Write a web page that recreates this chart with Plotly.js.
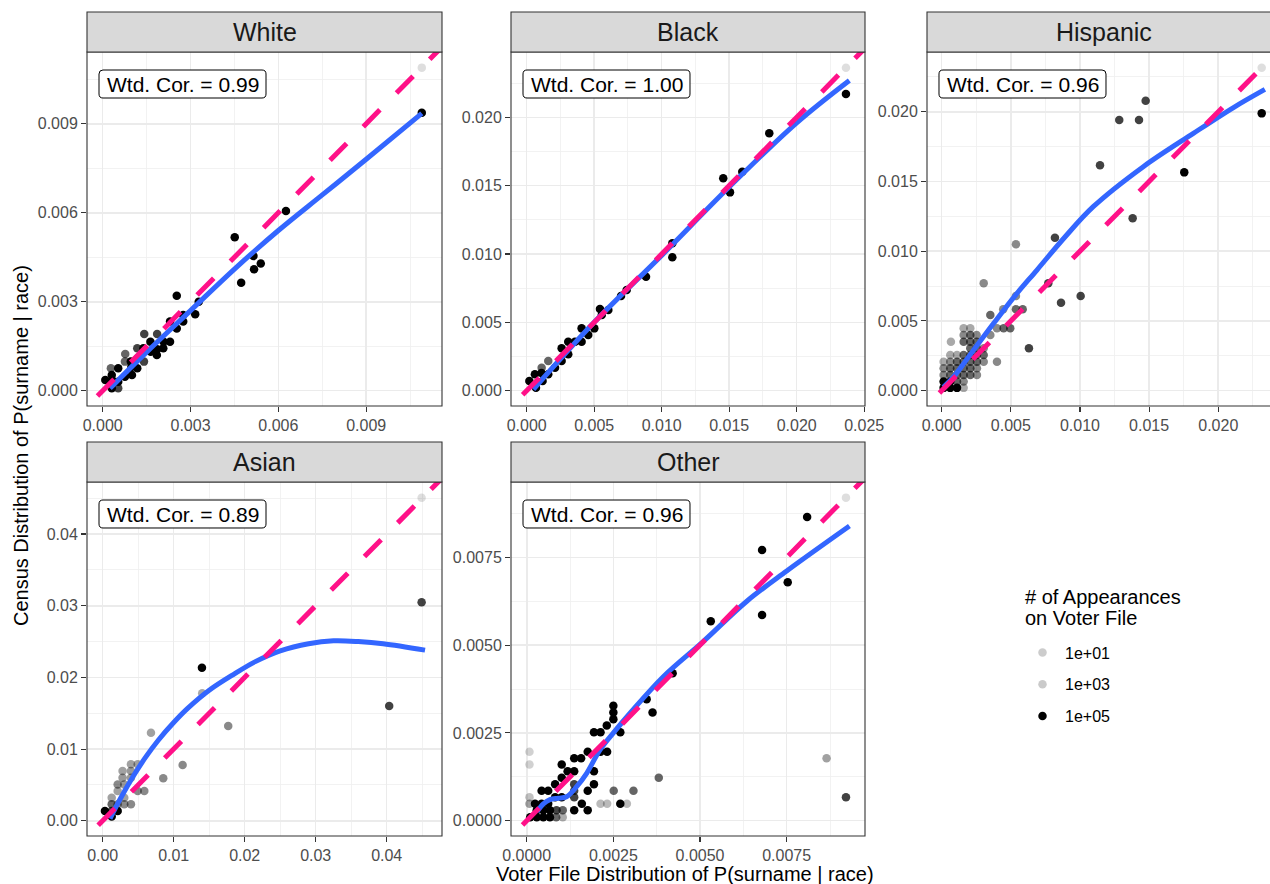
<!DOCTYPE html>
<html>
<head>
<meta charset="utf-8">
<script src="https://cdn.plot.ly/plotly-3.0.1.min.js"></script>
<style>html,body{margin:0;padding:0;background:#fff;}#chart{width:1270px;height:884px;}</style>
</head>
<body>
<div id="chart"></div>
<script>
// ---------------- DATA ----------------
const panelNames = ['White', 'Black', 'Hispanic', 'Asian', 'Other'];
const corValues = ['0.99', '1.00', '0.96', '0.89', '0.96'];
const legendTitleLines = ['# of Appearances', 'on Voter File'];
const legendCounts = [10, 1000, 100000];
const legendLabels = ['1e+01', '1e+03', '1e+05'];

const whiteTicks = [0, 0.003, 0.006, 0.009];
const blackTicksX = [0, 0.005, 0.010, 0.015, 0.020, 0.025];
const blackTicksY = [0, 0.005, 0.010, 0.015, 0.020];
const hispTicks = [0, 0.005, 0.010, 0.015, 0.020];
const asianTicks = [0, 0.01, 0.02, 0.03, 0.04];
const otherTicks = [0, 0.0025, 0.0050, 0.0075];

// White: voter-file share, census share, # appearances
const whiteX = [0.0109,0.0109,0.00626,0.00451,0.00515,0.0054,0.00517,0.00473,0.00253,0.00328,0.00316,0.00275,0.00275,0.0023,0.00253,0.0023,0.00207,0.00186,0.00185,0.00163,0.00142,0.00164,0.00139,0.00118,0.00141,0.00118,0.00096,0.00077,0.00076,0.0010,0.00053,0.00028,0.00031,0.00053,0.00009,0.00032,0.00053,0.00031,0.00076,0.00186,0.00208,0.00098,0.0012];
const whiteY = [0.01089,0.00937,0.00606,0.00517,0.00454,0.00429,0.00409,0.00364,0.0032,0.0030,0.00258,0.00255,0.00233,0.00233,0.0021,0.00165,0.00143,0.00191,0.0012,0.00165,0.00191,0.00131,0.00143,0.00143,0.00098,0.00076,0.00098,0.00124,0.00098,0.00053,0.00076,0.00076,0.00053,0.0003,0.00036,0.00036,0.00008,0.00008,0.00047,0.0014,0.00165,0.0008,0.0011];
const whiteN = [10,100000,100000,100000,100000,100000,100000,100000,100000,100000,100000,100000,100000,100000,100000,100000,100000,50000,100000,100000,50000,100000,100000,50000,50000,100000,100000,30000,30000,100000,100000,30000,100000,100000,100000,100000,50000,100000,100000,100000,100000,100000,100000];

const blackX = [0.02365,0.02365,0.01797,0.01456,0.01597,0.01506,0.01079,0.01079,0.00884,0.00741,0.00699,0.00543,0.00605,0.00556,0.00501,0.00407,0.00456,0.00407,0.00358,0.00308,0.00259,0.00308,0.00259,0.0021,0.0016,0.00111,0.0016,0.00061,0.00118,0.0002,0.00069,0.0011];
const blackY = [0.02363,0.0217,0.01883,0.01554,0.01602,0.01451,0.01078,0.00976,0.00834,0.00737,0.00693,0.00598,0.0059,0.00554,0.00456,0.00456,0.00407,0.00358,0.00358,0.00358,0.0031,0.00266,0.00217,0.00168,0.00217,0.00168,0.0012,0.0012,0.00071,0.00071,0.00022,0.0013];
const blackN = [10,100000,100000,100000,100000,100000,100000,100000,100000,100000,100000,100000,100000,100000,100000,100000,100000,100000,100000,100000,100000,100000,100000,100000,30000,30000,100000,100000,100000,100000,100000,100000];

const hispX = [0.02314,0.02314,0.01475,0.01284,0.01427,0.01145,0.01754,0.01381,0.00819,0.00537,0.00304,0.00771,0.01005,0.00863,0.00537,0.00586,0.00537,0.00445,0.00352,0.0040,0.00448,0.00496,0.00352,0.00631,0.0040,0.00067,
  0.00159,0.00207,
  0.00159,0.00207,0.00253,
  0.00159,0.00207,0.00253,
  0.00207,0.00253,0.00304,
  0.00062,0.00111,0.00159,0.00207,0.00255,0.00304,
  0.00014,0.00062,0.00111,0.00159,0.00207,0.00255,0.00304,
  0.00014,0.00062,0.00111,0.00159,0.00207,0.00255,
  0.00014,0.00062,0.00111,0.00159,0.00207,0.00255,
  0.00014,0.00062,0.00111,0.00159,
  0.00014,0.00062,0.00111,0.00159];
const hispY = [0.02315,0.01988,0.02079,0.0194,0.0194,0.01616,0.01565,0.01236,0.01097,0.01049,0.0077,0.0077,0.00679,0.00631,0.00679,0.00583,0.00583,0.00583,0.00543,0.00447,0.00447,0.00447,0.00399,0.00304,0.00208,0.00351,
  0.00447,0.00447,
  0.00399,0.00399,0.00399,
  0.00351,0.00351,0.00351,
  0.00304,0.00304,0.00304,
  0.00256,0.00256,0.00256,0.00256,0.00256,0.00256,
  0.00208,0.00208,0.00208,0.00208,0.00208,0.00208,0.00208,
  0.00161,0.00161,0.00161,0.00161,0.00161,0.00161,
  0.00113,0.00113,0.00113,0.00113,0.00113,0.00113,
  0.00065,0.00065,0.00065,0.00065,
  0.00020,0.00020,0.00020,0.00020];
const hispN = [10,100000,50000,50000,50000,50000,100000,50000,50000,15000,15000,50000,50000,50000,15000,30000,30000,15000,30000,15000,30000,30000,15000,50000,15000,6000,
  6000,6000,
  15000,30000,15000,
  30000,30000,30000,
  30000,30000,15000,
  6000,6000,30000,30000,30000,30000,
  6000,15000,30000,30000,30000,30000,15000,
  15000,30000,30000,30000,30000,15000,
  15000,30000,30000,30000,30000,15000,
  100000,100000,30000,15000,
  100000,100000,100000,6000];

const asianX = [0.04492,0.04492,0.01398,0.01402,0.04035,0.01768,0.0068,0.01126,0.00853,0.00586,0.00493,0.00398,0.00493,0.0028,0.00398,0.0028,0.00398,0.00211,0.00304,0.00211,0.00127,0.00304,0.00127,0.00211,0.00304,0.00398,0.00032,0.00211,0.00127,0.00127];
const asianY = [0.04507,0.03047,0.02135,0.01778,0.016,0.01321,0.01228,0.00777,0.00592,0.00414,0.00414,0.00787,0.00787,0.00693,0.00693,0.006,0.006,0.00507,0.00507,0.00414,0.00321,0.00321,0.00229,0.00229,0.00229,0.00229,0.00135,0.00135,0.0006,0.00135];
const asianN = [10,50000,100000,6000,50000,15000,8000,15000,15000,15000,15000,8000,8000,8000,10000,10000,10000,15000,10000,8000,8000,8000,30000,15000,15000,15000,100000,100000,100000,50000];

const otherX = [0.00921,0.00809,0.00679,0.00753,0.00679,0.00531,0.00421,0.00346,0.00363,0.00865,0.00921,0.00381,0.00308,0.00251,0.0027,0.00289,0.00232,0.00213,0.0025,0.0025,0.0025,0.0027,0.00231,0.00194,0.00213,0.00232,0.00213,0.00176,0.00137,0.00157,0.00101,0.00194,0.00118,0.00137,0.00194,0.00176,0.00159,0.00137,0.00176,0.00137,0.00137,0.00137,0.00082,0.00101,0.00043,0.00062,0.00024,0.00043,0.00082,0.00101,0.00062,
  0.0001,0.00029,0.00048,0.00067,0.00085,0.00104,
  0.00029,0.00048,0.00067,0.00086,0.00104,
  0.00008,0.00008,0.00008,0.00008];
const otherY = [0.0092,0.00865,0.00771,0.00679,0.00586,0.00568,0.0042,0.00346,0.00308,0.00178,0.00067,0.00122,0.00085,0.00085,0.00048,0.00048,0.00048,0.00048,0.00327,0.00308,0.00289,0.00252,0.00271,0.00252,0.00252,0.00196,0.00196,0.00196,0.00178,0.00178,0.0016,0.00141,0.00141,0.00141,0.00104,0.00085,0.00048,0.0003,0.0003,0.00104,0.00085,0.00067,0.00104,0.00122,0.00085,0.00085,0.00048,0.00048,0.00067,0.00067,0.00048,
  0.0001,0.0001,0.0001,0.0001,0.0001,0.0001,
  0.0003,0.0003,0.0003,0.0003,0.0003,
  0.00196,0.0016,0.00067,0.00048];
const otherN = [10,100000,100000,100000,100000,100000,100000,100000,100000,8000,50000,30000,30000,30000,100000,3000,3000,3000,100000,100000,100000,100000,100000,100000,100000,100000,100000,100000,100000,100000,100000,100000,100000,100000,100000,100000,100000,100000,100000,50000,50000,50000,100000,100000,100000,100000,100000,100000,100000,100000,100000,
  100000,100000,100000,100000,30000,5000,
  100000,100000,100000,50000,30000,
  500,500,2000,8000];

// loess fits
const whiteFitX = [0.00025,0.0015,0.003,0.0045,0.006,0.0075,0.009,0.0109];
const whiteFitY = [0.00008,0.0013,0.0027,0.0041,0.0054,0.0066,0.0078,0.00935];
const blackFitX = [0.0005,0.005,0.010,0.015,0.020,0.0239];
const blackFitY = [0.0001,0.0050,0.0099,0.0149,0.0196,0.0227];
const hispFitX = [0.00012,0.00087,0.0023,0.00376,0.0053,0.00689,0.0089,0.01096,0.01458,0.0182,0.0211,0.02337];
const hispFitY = [0.00024,0.0010,0.0029,0.00483,0.0068,0.00865,0.0110,0.01319,0.01606,0.01845,0.0203,0.0216];
const asianFitX = [0.00103,0.0025,0.0043,0.006,0.0078,0.0100,0.0120,0.0150,0.0184,0.0215,0.025,0.029,0.0325,0.036,0.0395,0.0454];
const asianFitY = [0.0003,0.0031,0.0062,0.0088,0.0112,0.0137,0.0157,0.0182,0.0204,0.0222,0.0237,0.0247,0.0251,0.0250,0.0247,0.0238];
const otherFitX = [0.0003,0.00048,0.00067,0.00091,0.00115,0.00144,0.00173,0.00211,0.0025,0.00298,0.00394,0.00509,0.00635,0.0075,0.00931];
const otherFitY = [0.00026,0.00048,0.0006,0.00064,0.00068,0.00097,0.00135,0.00201,0.0025,0.00306,0.0041,0.0051,0.00625,0.00711,0.00839];

// ---------------- LAYOUT HELPERS ----------------
const W = 1270, H = 884;
const fx = p => p / W;
const fy = p => 1 - p / H;
const FONT = 'Liberation Sans, Arial, Helvetica, sans-serif';
const alphaOf = n => 0.12 + 0.88 * Math.sqrt(Math.min(n, 1e5) / 1e5);

const series = [
  {x: whiteX, y: whiteY, n: whiteN, fx: whiteFitX, fy: whiteFitY, tx: whiteTicks, ty: whiteTicks},
  {x: blackX, y: blackY, n: blackN, fx: blackFitX, fy: blackFitY, tx: blackTicksX, ty: blackTicksY},
  {x: hispX, y: hispY, n: hispN, fx: hispFitX, fy: hispFitY, tx: hispTicks, ty: hispTicks},
  {x: asianX, y: asianY, n: asianN, fx: asianFitX, fy: asianFitY, tx: asianTicks, ty: asianTicks},
  {x: otherX, y: otherY, n: otherN, fx: otherFitX, fy: otherFitY, tx: otherTicks, ty: otherTicks}
];

// pixel geometry of each facet (plot area) + axis ranges (xfull = uncropped panel x range)
const geo = [
  {l: 87, r: 442, rr: 442, t: 52, b: 406, xr: [-0.000536, 0.01159], xfull: [-0.000536, 0.01159], yr: [-0.000516, 0.011417], fmt: '.3f'},
  {l: 511, r: 865, rr: 865, t: 52, b: 406, xr: [-0.00116, 0.02506], xfull: [-0.00116, 0.02506], yr: [-0.00112, 0.02478], fmt: '.3f'},
  {l: 927, r: 1270, rr: 1281, t: 52, b: 406, xr: [-0.00106, 0.02374], xfull: [-0.00106, 0.02453], yr: [-0.0011, 0.02428], fmt: '.3f'},
  {l: 87, r: 442, rr: 442, t: 482, b: 836, xr: [-0.00221, 0.04779], xfull: [-0.00221, 0.04779], yr: [-0.00213, 0.04726], fmt: '.2f'},
  {l: 511, r: 865, rr: 865, t: 482, b: 836, xr: [-0.000453, 0.009759], xfull: [-0.000453, 0.009759], yr: [-0.000436, 0.009645], fmt: '.4f'}
];

const traces = [];
const layout = {
  width: W, height: H,
  margin: {l: 0, r: 0, t: 0, b: 0},
  paper_bgcolor: '#ffffff', plot_bgcolor: '#ffffff',
  font: {family: FONT, color: '#000'},
  showlegend: true,
  shapes: [], annotations: []
};

function rrPath(x0, y0, x1, y1, r) {
  const X = v => fx(v).toFixed(6), Y = v => fy(v).toFixed(6);
  return `M ${X(x0 + r)},${Y(y0)} L ${X(x1 - r)},${Y(y0)} Q ${X(x1)},${Y(y0)} ${X(x1)},${Y(y0 + r)} ` +
         `L ${X(x1)},${Y(y1 - r)} Q ${X(x1)},${Y(y1)} ${X(x1 - r)},${Y(y1)} L ${X(x0 + r)},${Y(y1)} ` +
         `Q ${X(x0)},${Y(y1)} ${X(x0)},${Y(y1 - r)} L ${X(x0)},${Y(y0 + r)} Q ${X(x0)},${Y(y0)} ${X(x0 + r)},${Y(y0)} Z`;
}

const fitTraces = [], refTraces = [];
series.forEach((s, i) => {
  const g = geo[i];
  const k = i === 0 ? '' : String(i + 1);
  const xa = 'x' + k, ya = 'y' + k;
  const step = s.tx[1] - s.tx[0];
  const axCommon = {
    showline: false, zeroline: false, ticks: 'outside', ticklen: 5, tickwidth: 1.1, tickcolor: '#333333',
    tickfont: {size: 16, color: '#4D4D4D', family: FONT},
    showgrid: true, gridcolor: '#EBEBEB', gridwidth: 1.6,
    tickmode: 'array', tickformat: g.fmt,
    minor: {tickmode: 'linear', tick0: 0, dtick: step / 2, showgrid: true, gridcolor: '#EFEFEF', gridwidth: 0.8, ticks: ''},
    fixedrange: true
  };
  layout['xaxis' + k] = Object.assign({}, axCommon, {
    domain: [fx(g.l), fx(g.r)], range: g.xr, anchor: ya, tickvals: s.tx
  });
  layout['yaxis' + k] = Object.assign({}, axCommon, {
    domain: [fy(g.b), fy(g.t)], range: g.yr, anchor: xa, tickvals: s.ty
  });

  traces.push({
    type: 'scatter', mode: 'markers', x: s.x, y: s.y, xaxis: xa, yaxis: ya, showlegend: false,
    marker: {color: '#000000', size: 8.5, opacity: s.n.map(alphaOf), line: {width: 0}},
    hoverinfo: 'skip'
  });
  fitTraces.push({
    type: 'scatter', mode: 'lines', x: s.fx, y: s.fy, xaxis: xa, yaxis: ya, showlegend: false,
    line: {color: '#3366FF', width: 5, shape: 'spline', smoothing: 1}, hoverinfo: 'skip'
  });
  // y = x reference, extended one panel-width beyond each side (as ggplot does)
  const wdt = g.xfull[1] - g.xfull[0];
  const lo = g.xfull[0] - wdt, hi = g.xfull[1] + wdt;
  refTraces.push({
    type: 'scatter', mode: 'lines', x: [lo, hi], y: [lo, hi], xaxis: xa, yaxis: ya, showlegend: false,
    line: {color: '#FF1188', width: 5, dash: '23.65px,23.65px'}, hoverinfo: 'skip'
  });

  // panel border
  layout.shapes.push({type: 'rect', xref: 'paper', yref: 'paper', x0: fx(g.l), x1: fx(g.rr), y0: fy(g.b), y1: fy(g.t),
    line: {color: '#333333', width: 1.1}, fillcolor: 'rgba(0,0,0,0)', layer: 'above'});
  // strip
  layout.shapes.push({type: 'rect', xref: 'paper', yref: 'paper', x0: fx(g.l), x1: fx(g.rr), y0: fy(g.t), y1: fy(g.t - 40),
    line: {color: '#333333', width: 1.1}, fillcolor: '#D9D9D9', layer: 'above'});
  layout.annotations.push({xref: 'paper', yref: 'paper', x: fx((g.l + g.rr) / 2), y: fy(g.t - 20), text: panelNames[i],
    showarrow: false, xanchor: 'center', yanchor: 'middle', font: {size: 25, color: '#1A1A1A', family: FONT}});
  // correlation label
  const bx0 = g.l + 12, by0 = g.t + 18, bx1 = bx0 + 167, by1 = by0 + 28;
  layout.shapes.push({type: 'path', xref: 'paper', yref: 'paper', path: rrPath(bx0, by0, bx1, by1, 4),
    line: {color: '#000000', width: 1}, fillcolor: '#ffffff', layer: 'above'});
  layout.annotations.push({xref: 'paper', yref: 'paper', x: fx((bx0 + bx1) / 2), y: fy((by0 + by1) / 2),
    text: 'Wtd. Cor. = ' + corValues[i], showarrow: false, xanchor: 'center', yanchor: 'middle',
    font: {size: 21, color: '#000000', family: FONT}});
});
fitTraces.forEach(t => traces.push(t));
refTraces.forEach(t => traces.push(t));

// legend entries
legendCounts.forEach((n, j) => {
  traces.push({type: 'scatter', mode: 'markers', x: [null], y: [null], xaxis: 'x', yaxis: 'y',
    name: legendLabels[j], legendgroup: 'g' + j, showlegend: true,
    marker: {color: '#000000', size: 8.5, opacity: alphaOf(n)}});
});
layout.legend = {
  x: fx(1020), y: fy(635.5), xanchor: 'left', yanchor: 'top',
  bgcolor: 'rgba(0,0,0,0)', borderwidth: 0,
  font: {size: 16, color: '#000000', family: FONT},
  tracegroupgap: 8, itemwidth: 35, itemclick: false, itemdoubleclick: false
};
// legend title (two tight lines)
legendTitleLines.forEach((t, j) => {
  layout.annotations.push({xref: 'paper', yref: 'paper', x: fx(1023), y: fy(597 + 21 * j), text: t,
    showarrow: false, xanchor: 'left', yanchor: 'middle', font: {size: 20, color: '#000000', family: FONT}});
});

// axis titles
layout.annotations.push({xref: 'paper', yref: 'paper', x: fx(685), y: fy(874), text: 'Voter File Distribution of P(surname | race)',
  showarrow: false, xanchor: 'center', yanchor: 'middle', font: {size: 20, color: '#000000', family: FONT}});
layout.annotations.push({xref: 'paper', yref: 'paper', x: fx(21), y: fy(446), text: 'Census Distribution of P(surname | race)',
  showarrow: false, xanchor: 'center', yanchor: 'middle', textangle: -90, font: {size: 20, color: '#000000', family: FONT}});

Plotly.newPlot('chart', traces, layout, {displayModeBar: false, staticPlot: true});
</script>
</body>
</html>
